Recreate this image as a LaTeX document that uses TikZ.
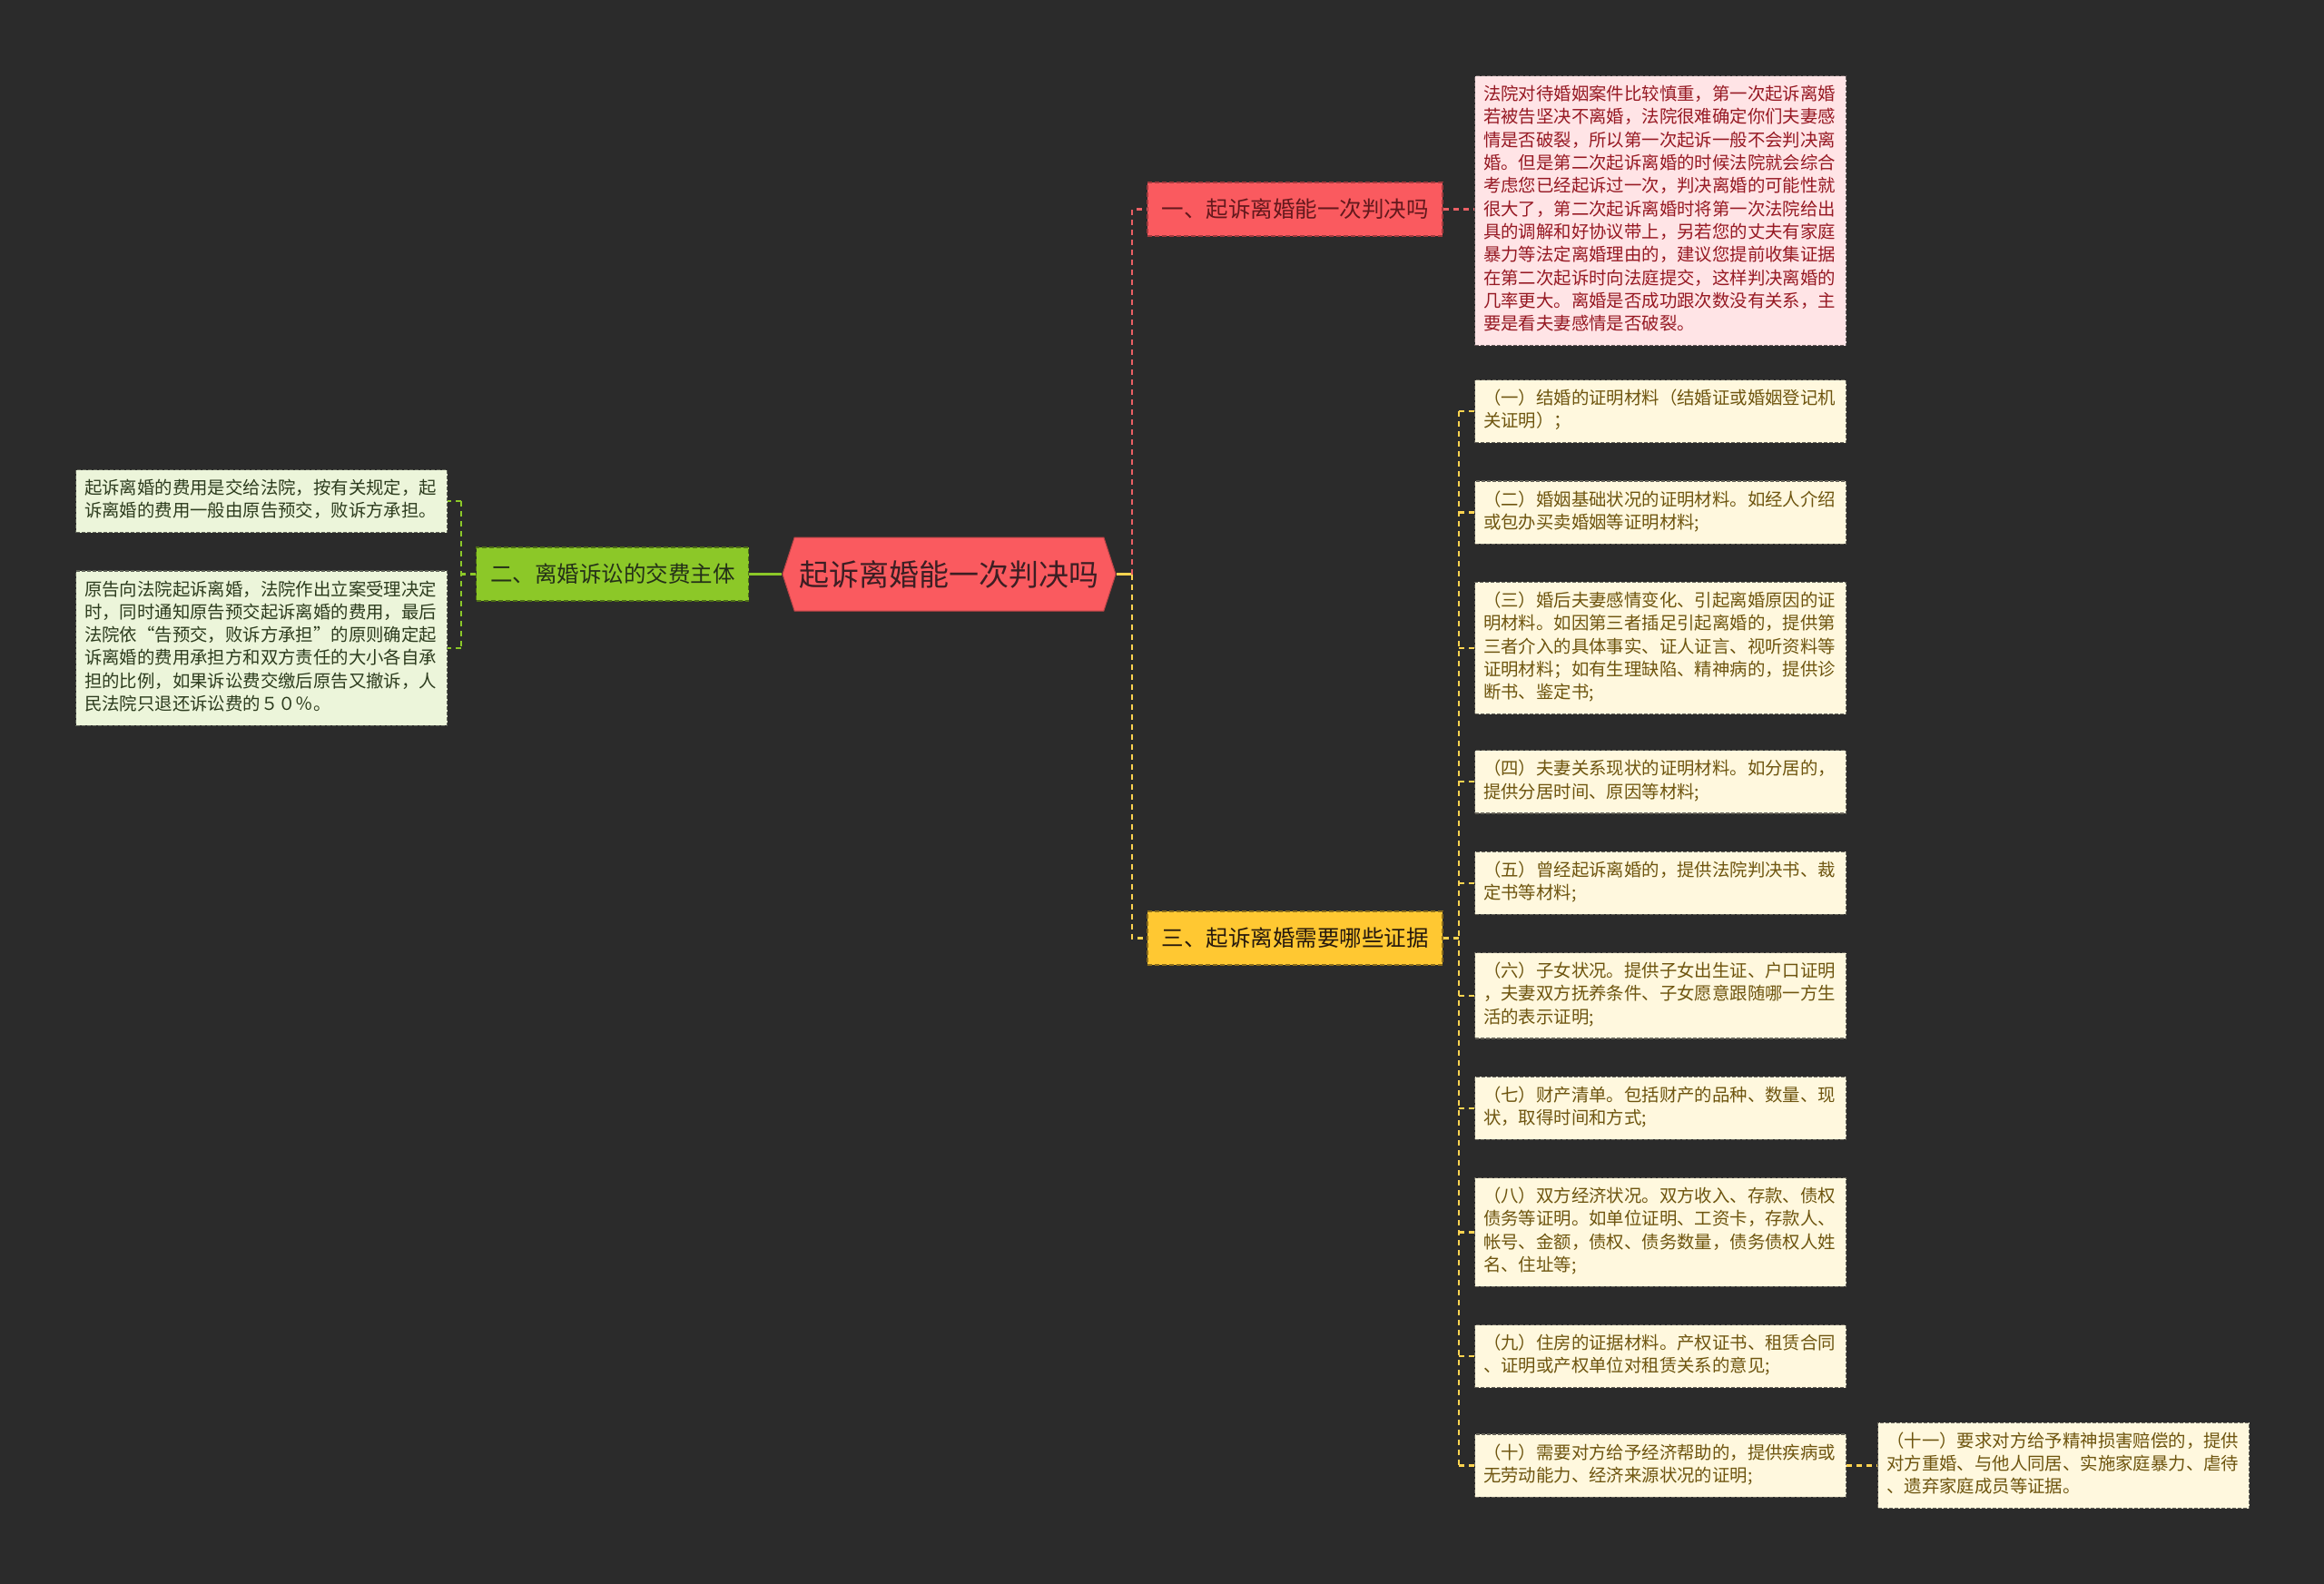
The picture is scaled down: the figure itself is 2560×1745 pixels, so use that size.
\documentclass[tikz,border=0pt]{standalone}
\usepackage{fontspec}
\setmainfont{Noto Sans CJK SC}
\definecolor{mapbg}{RGB}{43,43,43}
\definecolor{mapred}{RGB}{250,90,95}
\definecolor{mapyellow}{RGB}{255,200,50}
\definecolor{mapgreen}{RGB}{140,200,40}
\definecolor{linered}{RGB}{235,95,100}
\definecolor{lineyellow}{RGB}{255,212,80}
\definecolor{pinkleaf}{RGB}{255,228,230}
\definecolor{creamleaf}{RGB}{255,248,222}
\definecolor{mintleaf}{RGB}{236,245,218}
\definecolor{hubtext}{RGB}{60,30,35}
\definecolor{redtext}{RGB}{150,25,35}
\definecolor{creamtext}{RGB}{110,85,15}
\definecolor{minttext}{RGB}{45,60,30}
\usetikzlibrary{positioning, shapes.symbols}

\begin{document}
\begin{tikzpicture}[x=1pt, y=-1pt,
  node distance=41pt and 34pt,
  hub/.style={shape=signal, signal to=east and west, signal pointer angle=144,
              fill=mapred, draw=mapred!75!black, line width=1pt,
              minimum width=367pt, minimum height=81pt, inner sep=0pt,
              font=\fontsize{33}{40}\selectfont, text=hubtext},
  topic/.style={rectangle, draw, dash pattern=on 5pt off 3pt, line width=1.2pt,
                minimum height=59pt, inner sep=0pt,
                font=\fontsize{24.5}{30}\selectfont},
  leaf/.style={rectangle, draw, dash pattern=on 4pt off 2pt, line width=1.2pt,
               align=left, text width=390pt, inner xsep=9.5pt, inner ysep=9.3pt,
               font=\fontsize{19.4}{25.3}\selectfont,
               execute at begin node=\strut, execute at end node=\strut},
  redleaf/.style={leaf, fill=pinkleaf, draw=pinkleaf!40!black, text=redtext},
  evleaf/.style={leaf, fill=creamleaf, draw=creamleaf!40!black, text=creamtext},
  feeleaf/.style={leaf, fill=mintleaf, draw=mintleaf!40!black, text=minttext},
  conn/.style={line width=2.3pt, dash pattern=on 6pt off 5pt}]
\fill[mapbg] (0,0) rectangle (2560,1745);
% centre and main topics
\node[hub] (root) at (1045.5,632.5) {起诉离婚能一次判决吗};
\node[topic, fill=mapred, draw=mapred!65!black, text=hubtext!80!red,
      minimum width=325pt] (br1) at (1426.5,230.5) {一、起诉离婚能一次判决吗};
\node[topic, fill=mapyellow, draw=mapyellow!55!black, text=black!80!brown,
      minimum width=325pt] (br3) at (1426.5,1033.5) {三、起诉离婚需要哪些证据};
\node[topic, fill=mapgreen, draw=mapgreen!55!black, text=minttext!80!black,
      minimum width=300pt, left=36pt of root] (br2) {二、离婚诉讼的交费主体};
% right: answer note
\node[redleaf, anchor=north west] (note) at (1624,83) {法院对待婚姻案件比较慎重，第一次起诉离婚\\若被告坚决不离婚，法院很难确定你们夫妻感\\情是否破裂，所以第一次起诉一般不会判决离\\婚。但是第二次起诉离婚的时候法院就会综合\\考虑您已经起诉过一次，判决离婚的可能性就\\很大了，第二次起诉离婚时将第一次法院给出\\具的调解和好协议带上，另若您的丈夫有家庭\\暴力等法定离婚理由的，建议您提前收集证据\\在第二次起诉时向法庭提交，这样判决离婚的\\几率更大。离婚是否成功跟次数没有关系，主\\要是看夫妻感情是否破裂。};
% right: evidence list
\node[evleaf, anchor=north west] (ev1) at (1624,418) {（一）结婚的证明材料（结婚证或婚姻登记机\\关证明）；};
\node[evleaf, below=of ev1] (ev2) {（二）婚姻基础状况的证明材料。如经人介绍\\或包办买卖婚姻等证明材料;};
\node[evleaf, below=of ev2] (ev3) {（三）婚后夫妻感情变化、引起离婚原因的证\\明材料。如因第三者插足引起离婚的，提供第\\三者介入的具体事实、证人证言、视听资料等\\证明材料；如有生理缺陷、精神病的，提供诊\\断书、鉴定书;};
\node[evleaf, below=39pt of ev3] (ev4) {（四）夫妻关系现状的证明材料。如分居的，\\提供分居时间、原因等材料;};
\node[evleaf, below=of ev4] (ev5) {（五）曾经起诉离婚的，提供法院判决书、裁\\定书等材料;};
\node[evleaf, below=of ev5] (ev6) {（六）子女状况。提供子女出生证、户口证明\\，夫妻双方抚养条件、子女愿意跟随哪一方生\\活的表示证明;};
\node[evleaf, below=of ev6] (ev7) {（七）财产清单。包括财产的品种、数量、现\\状，取得时间和方式;};
\node[evleaf, below=of ev7] (ev8) {（八）双方经济状况。双方收入、存款、债权\\债务等证明。如单位证明、工资卡，存款人、\\帐号、金额，债权、债务数量，债务债权人姓\\名、住址等;};
\node[evleaf, below=of ev8] (ev9) {（九）住房的证据材料。产权证书、租赁合同\\、证明或产权单位对租赁关系的意见;};
\node[evleaf, below=50pt of ev9] (ev10) {（十）需要对方给予经济帮助的，提供疾病或\\无劳动能力、经济来源状况的证明;};
\node[evleaf, right=of ev10] (ev11) {（十一）要求对方给予精神损害赔偿的，提供\\对方重婚、与他人同居、实施家庭暴力、虐待\\、遗弃家庭成员等证据。};
% left: fee notes
\node[feeleaf, anchor=north west] (fee1) at (83,517) {起诉离婚的费用是交给法院，按有关规定，起\\诉离婚的费用一般由原告预交，败诉方承担。};
\node[feeleaf, below=of fee1] (fee2) {原告向法院起诉离婚，法院作出立案受理决定\\时，同时通知原告预交起诉离婚的费用，最后\\法院依“告预交，败诉方承担”的原则确定起\\诉离婚的费用承担方和双方责任的大小各自承\\担的比例，如果诉讼费交缴后原告又撤诉，人\\民法院只退还诉讼费的５０％。};
% connectors
\coordinate (jr) at (1247,632.5);
\coordinate (jl) at (508,632.5);
\coordinate (jev) at (1607,1033.5);
\draw[lineyellow, line width=2.3pt] (root.east) -- (jr);
\draw[conn, linered] (jr) |- (br1.west);
\draw[conn, lineyellow] (jr) |- (br3.west);
\draw[conn, linered] (br1.east) -- (br1.east -| note.west);
\draw[mapgreen, line width=2.3pt] (root.west) -- (br2.east);
\draw[conn, mapgreen] (br2.west) -- (jl);
\draw[conn, mapgreen] (jl |- fee1.east) -- (jl |- fee2.east);
\foreach \n in {fee1, fee2}
  \draw[conn, mapgreen] (jl |- \n.east) -- (\n.east);
\draw[conn, lineyellow] (br3.east) -- (jev);
\draw[conn, lineyellow] (jev |- ev1.west) -- (jev |- ev10.west);
\foreach \n in {ev1, ev2, ev3, ev4, ev5, ev6, ev7, ev8, ev9, ev10}
  \draw[conn, lineyellow] (jev |- \n.west) -- (\n.west);
\draw[conn, lineyellow] (ev10.east) -- (ev11.west);
\end{tikzpicture}
\end{document}
